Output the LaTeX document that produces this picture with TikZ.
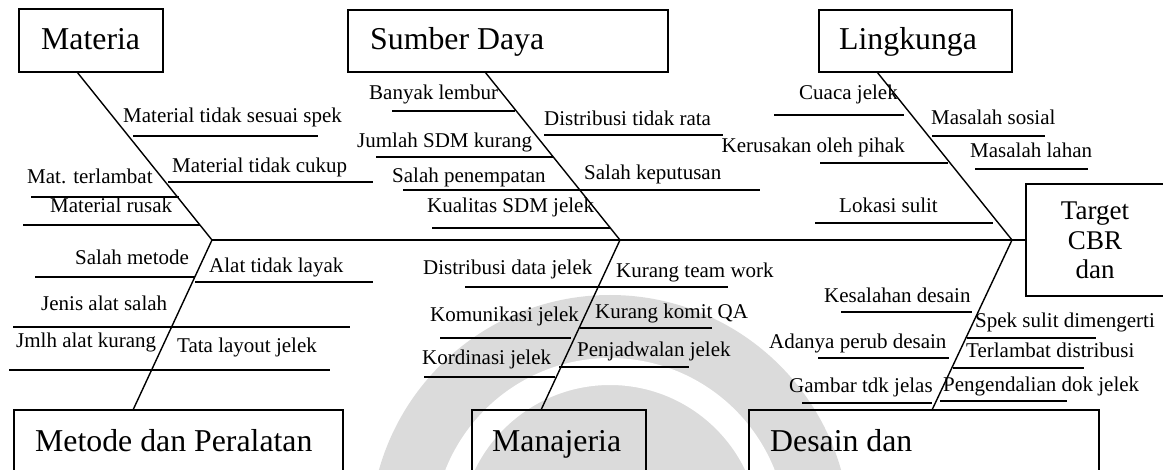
\documentclass[tikz,border=0pt]{standalone}
\usepackage{fontspec}
\setmainfont{Liberation Serif}
\begin{document}
\begin{tikzpicture}[x=1pt,y=-1pt,
  bone/.style={line width=1.4pt},
  twig/.style={line width=1.4pt},
  cause/.style={font=\fontsize{21}{24}\selectfont, inner sep=0pt, anchor=base west},
  causeR/.style={cause, anchor=base east},
  catbox/.style={draw, line width=1.4pt, inner sep=0pt, outer sep=0pt, anchor=north west},
  cattext/.style={font=\fontsize{31.8}{36}\selectfont, inner sep=0pt, anchor=base west},
  goaltext/.style={font=\fontsize{27}{30}\selectfont, inner sep=0pt, anchor=base},
]
\useasboundingbox (0,0) rectangle (1163,470);

% faint seal in the background
\fill[black!14] (610,535) circle (240pt);
\fill[white, even odd rule] (610,535) circle (177pt) (610,535) circle (150pt);

% category boxes
\node[catbox, minimum width=144pt, minimum height=63pt] (materia) at (19,9) {};
\node[catbox, minimum width=320pt, minimum height=62pt] (sumber) at (348,10) {};
\node[catbox, minimum width=193pt, minimum height=62pt] (lingk) at (819,10) {};
\node[catbox, minimum width=329pt, minimum height=80pt] (metode) at (14,410) {};
\node[catbox, minimum width=174pt, minimum height=80pt] (manaj) at (472,410) {};
\node[catbox, minimum width=350pt, minimum height=80pt] (desain) at (749,410) {};
\node[catbox, minimum width=160pt, minimum height=112pt] (target) at (1026,184) {};

\node[cattext] (materiaT) at (41,50) {Materia};
\node[cattext] (sumberT) at (370,50) {Sumber Daya};
\node[cattext] (lingkT) at (839,50) {Lingkunga};
\node[cattext] (metodeT) at (35,452) {Metode dan Peralatan};
\node[cattext] (manajT) at (492,451) {Manajeria};
\node[cattext] (desainT) at (770,451) {Desain dan};
\node[goaltext] (targetA) at (1095,220) {Target};
\node[goaltext] (targetB) at (1095,250) {CBR};
\node[goaltext] (targetC) at (1095,279) {dan};

% spine and main bones
\coordinate (jA) at (212,240);
\coordinate (jB) at (620,240);
\coordinate (jC) at (1012,240);
\draw[bone] (jA) -- (target.west);
\draw[bone] ([xshift=58pt]materia.south west) -- (jA);
\draw[bone] ([xshift=137pt]sumber.south west) -- (jB);
\draw[bone] ([xshift=58pt]lingk.south west) -- (jC);
\draw[bone] (jA) -- ([xshift=119pt]metode.north west);
\draw[bone] (jB) -- ([xshift=69pt]manaj.north west);
\draw[bone] (jC) -- ([xshift=183pt]desain.north west);

% Materia causes
\node[cause] (m1) at (123,123) {Material tidak sesuai spek};
\node[cause] (m2) at (172,173) {Material tidak cukup};
\node[cause] (m3) at (27,184) {Mat. terlambat};
\node[cause] (m4) at (50,213) {Material rusak};
\draw[twig] (133,136) -- (318,136);
\draw[twig] (168,182) -- (373,182);
\draw[twig] (31,197) -- (179,197);
\draw[twig] (23,225) -- (200,225);

% Sumber Daya causes
\node[cause] (s1) at (369,100) {Banyak lembur};
\node[cause] (s2) at (544,126) {Distribusi tidak rata};
\node[cause] (s3) at (357,148) {Jumlah SDM kurang};
\node[cause] (s4) at (392,183) {Salah penempatan};
\node[cause] (s5) at (584,180) {Salah keputusan};
\node[cause] (s6) at (427,213) {Kualitas SDM jelek};
\draw[twig] (392,111) -- (515,111);
\draw[twig] (544,135) -- (723,135);
\draw[twig] (376,157) -- (553,157);
\draw[twig] (403,190) -- (760,190);
\draw[twig] (432,228) -- (610,228);

% Lingkungan causes
\node[cause] (l1) at (799,100) {Cuaca jelek};
\node[cause] (l2) at (931,125) {Masalah sosial};
\node[causeR] (l3) at (905,153) {Kerusakan oleh pihak};
\node[cause] (l4) at (970,158) {Masalah lahan};
\node[cause] (l5) at (839,213) {Lokasi sulit};
\draw[twig] (774,115) -- (904,115);
\draw[twig] (932,136) -- (1045,136);
\draw[twig] (820,163) -- (948,163);
\draw[twig] (975,169) -- (1088,169);
\draw[twig] (815,223) -- (993,223);

% Metode dan Peralatan causes
\node[cause] (p1) at (75,265) {Salah metode};
\node[cause] (p2) at (209,273) {Alat tidak layak};
\node[cause] (p3) at (41,311) {Jenis alat salah};
\node[cause] (p4) at (16,348) {Jmlh alat kurang};
\node[cause] (p5) at (177,353) {Tata layout jelek};
\draw[twig] (35,277) -- (195,277);
\draw[twig] (195,282) -- (373,282);
\draw[twig] (13,327) -- (350,327);
\draw[twig] (9,370) -- (330,370);

% Manajeria causes
\node[cause] (n1) at (423,275) {Distribusi data jelek};
\node[cause] (n2) at (616,278) {Kurang team work};
\node[cause] (n3) at (430,322) {Komunikasi jelek};
\node[cause] (n4) at (595,319) {Kurang komit QA};
\node[cause] (n5) at (422,365) {Kordinasi jelek};
\node[cause] (n6) at (577,357) {Penjadwalan jelek};
\draw[twig] (465,287) -- (728,287);
\draw[twig] (440,338) -- (571,338);
\draw[twig] (580,328) -- (712,328);
\draw[twig] (424,377) -- (555,377);
\draw[twig] (559,367) -- (689,367);

% Desain causes
\node[cause] (d1) at (824,303) {Kesalahan desain};
\node[cause] (d2) at (975,328) {Spek sulit dimengerti};
\node[cause] (d3) at (769,349) {Adanya perub desain};
\node[cause] (d4) at (966,358) {Terlambat distribusi};
\node[cause] (d5) at (789,393) {Gambar tdk jelas};
\node[cause] (d6) at (943,392) {Pengendalian dok jelek};
\draw[twig] (841,312) -- (972,312);
\draw[twig] (967,338) -- (1096,338);
\draw[twig] (818,358) -- (949,358);
\draw[twig] (953,368) -- (1084,368);
\draw[twig] (802,403) -- (932,403);
\draw[twig] (940,401) -- (1067,401);
\end{tikzpicture}
\end{document}
